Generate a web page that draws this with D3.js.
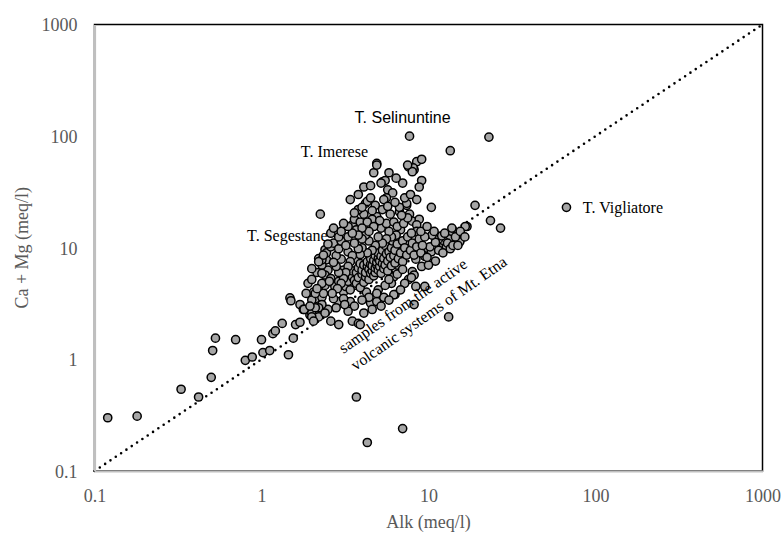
<!DOCTYPE html>
<html><head><meta charset="utf-8">
<script src="https://cdn.jsdelivr.net/npm/d3@7"></script>
<style>body{margin:0;background:#fff}svg{display:block}</style>
</head><body>
<svg id="c" width="784" height="535"></svg>
<script>
// ---- data (meq/l) ----
const alk = [
0.12,0.18,0.33,0.42,0.50,0.51,0.53,0.70,0.80,0.88,1.0,1.02,1.12,1.17,1.21,1.33,1.45,1.48,1.5,1.55,1.6,1.7,1.78,1.7,1.95,2.0,2.2,2.6,2.9,3.5,3.8,3.9,3.4,4.1,4.5,4.9,4.6,6.3,
2.05,2.1,2.3,2.35,2.4,2.45,2.4,3.0,3.3,3.7,2.5,2.4,2.6,2.75,2.9,3.1,2.9,2.7,3.4,3.6,4.0,4.4,4.7,4.25,5.1,5.6,6.5,6.2,6.0,3.1,
1.9,2.0,2.15,2.3,2.2,2.45,2.6,2.7,2.8,2.9,3.0,3.2,3.3,2.9,2.6,3.0,3.4,2.25,3.5,3.7,3.6,3.9,4.1,3.8,4.2,4.3,4.5,4.1,4.5,4.7,4.9,5.3,5.5,5.7,6.1,5.6,5.4,4.8,5.3,4.9,4.6,4.3,5.8,4.9,5.2,6.7,7.4,7.4,6.7,7.7,8.0,8.8,8.5,8.5,7.6,8.2,8.5,9.1,8.1,8.0,9.1,8.8,7.5,7.7,23,13.5,10.4,19,17,23.5,27,67,
11.5,12.5,14,15,13.7,15.4,13.5,12.3,12.8,16.6,10,10.4,11,9.5,8.4,8.0,8.2,7.6,8.4,9.5,6.2,8.2,13.2,14.4,15.4,13.2,12.3,10.2,11.5,14.5,13.0,
3.7,4.3,7.0,
3.2,3.3,3.4,3.5,3.5,3.6,3.7,3.7,3.8,3.8,3.9,3.9,4.0,4.0,4.1,4.1,4.2,4.2,4.3,4.3,4.4,4.4,4.5,4.5,4.5,4.6,4.6,4.7,4.7,4.8,4.8,4.8,4.9,4.9,5.0,5.0,5.0,5.1,5.1,5.2,5.2,5.3,5.3,5.4,5.4,5.5,5.5,5.6,5.7,5.7,5.8,5.9,6.0,6.0,6.1,6.2,6.3,6.3,6.5,6.6,6.8,7.0,7.0,7.2,7.4,7.5,7.8,8.0,8.2,8.5,8.8,9.0,9.2,7.9,6.8,6.4,6.0,5.8,5.6,5.3,5.0,4.8,4.6,4.4,4.3,4.2,4.0,4.0,3.9,3.8,3.6,3.5,3.4,3.3,3.2,3.1,3.0,2.9,2.8,2.7,
5.2,5.6,6.2,6.5,7.1,7.5,6.9,5.9,5.1,4.7,4.4,4.0,3.8,3.5,3.3,3.1,2.7,3.6,4.6,5.7,6.3,7.2,7.8,8.5,7.0,6.4,3.8,4.0,
5.0,5.5,5.8,6.5,7.0,7.2,6.8,5.4,4.9,4.4,4.0,3.6,3.3,3.1,2.8,2.5,2.3,2.2,5.2,5.8,7.9,9.1,10,9.8,11.5,12.2,13.5,14,12.0,11.0,10.5,9.5,9.0,9.8,10.8,12.5,13.8,15.5,16.5,15.0,
1.85,1.8,2.0,2.0,2.1,2.1,2.3,2.3,2.3,
2.0,2.2,2.35,2.5,2.15,2.55,2.85,3.15,2.65,1.95,2.05,2.4
];
const caMg = [
0.30,0.31,0.54,0.46,0.69,1.2,1.55,1.5,0.98,1.05,1.5,1.15,1.2,1.7,1.8,2.1,1.1,3.55,3.35,1.55,2.05,3.1,2.8,2.15,2.5,2.6,2.4,2.2,2.05,2.2,2.1,2.05,3.3,2.6,3.2,3.3,2.8,3.8,
4.0,3.5,3.6,3.9,4.6,7.8,9.6,7.9,9.2,7.9,6.3,5.7,5.3,4.5,5.0,4.0,3.3,3.5,5.7,4.6,5.3,5.7,6.6,4.0,7.3,7.9,7.0,5.5,4.8,6.3,
4.8,5.2,6.0,7.0,8.0,9.0,10.2,11,8.5,9.8,11.5,10.5,12.5,12.5,13.5,14,27,20,16,14.5,18,17,20,22,25,26,28,35,36,47,57,39,40,33,31,28,27,24,22,19,18,17,47,55,38,21,24,25,23,20,17.3,18,16,14,53,50,59,62,52,48,40,35,55,100,98,74,23,24,15.5,17.5,15,23,
12.6,11.6,14.3,13.4,10.9,11.6,13,10.4,10.3,15.5,9.6,9.2,7.6,8.4,7.9,6.1,5.7,5.2,4.5,4.5,3.8,3.1,2.4,11.6,11.3,12,11.6,10.2,12.0,12.5,11.0,
0.46,0.18,0.24,
4.5,5.0,4.2,5.5,6.2,5.1,4.8,6.0,5.4,6.6,4.4,7.2,5.8,6.3,4.9,7.0,5.5,6.0,6.8,7.5,5.2,6.4,5.9,7.1,8.0,6.2,6.9,5.6,7.7,6.0,6.6,8.5,7.0,7.4,6.3,8.0,9.0,6.8,7.6,8.4,5.9,7.2,9.5,6.5,8.0,7.0,10.5,8.8,6.2,7.6,9.2,8.2,6.9,10.0,11.5,8.5,7.3,9.5,10.8,8.0,9.0,7.5,11.5,10.0,8.6,12.5,9.5,11.0,8.6,10.2,12.0,9.0,10.5,13.5,14.5,13.0,12.5,14.0,12.0,11.0,12.5,10.5,9.5,11.5,9.0,13.0,10.0,12.0,8.7,9.8,11.0,8.5,7.5,6.8,6.0,5.3,4.8,6.0,6.8,7.4,
15,16.5,17,15.5,16.5,18.5,19.5,20,17.5,15.5,14,15,13,13.5,15.5,16.5,15,20.5,21.5,23.5,25.5,28,30,27,38,42,30,23,
4.2,4.6,5.2,5.8,6.4,4.8,4.2,3.6,3.9,3.6,3.4,3.0,2.7,3.5,2.9,2.8,3.1,2.9,3.0,3.4,5.4,6.8,7.0,8.2,9.5,9.0,9.8,10.5,12.8,11.2,13.0,12.5,14.0,15.5,14.0,13.5,15.0,14.0,12.5,10.5,
3.9,2.8,2.4,3.4,3.9,2.9,4.8,5.9,7.8,
6.5,7.5,8.6,10.8,4.3,5.0,4.3,3.1,3.9,3.0,2.2,2.6
];
const ticks = [0.1, 1, 10, 100, 1000];
const tickLabels = ["0.1", "1", "10", "100", "1000"];
const notes = [
  {text: "T. Selinuntine", x: 7.0, y: 131, sans: true},
  {text: "T. Imerese", x: 1.72, y: 65},
  {text: "T. Segestane", x: 0.82, y: 11.5},
  {text: "T. Vigliatore", x: 84, y: 20.5}
];
const etnaLines = ["samples from the active", "volcanic systems of Mt. Etna"];

// ---- layout ----
const svg = d3.select("#c");
const L = 94.5, R = 762.5, T = 24.5, B = 471;
const x = d3.scaleLog().domain([0.1, 1000]).range([L, R]);
const y = d3.scaleLog().domain([0.1, 1000]).range([B, T]);
const serif = "'Liberation Serif','Times New Roman',serif";
const sans = "'Liberation Sans',Arial,sans-serif";
const gray = "#595959";

// plot border (top/right black)
svg.append("rect").attr("x", L).attr("y", T).attr("width", R - L).attr("height", B - T)
  .attr("fill", "none").attr("stroke", "#000").attr("stroke-width", 1.5);

// 1:1 line
svg.append("line").attr("x1", x(0.1)).attr("y1", y(0.1)).attr("x2", x(1000)).attr("y2", y(1000))
  .attr("stroke", "#000").attr("stroke-width", 2.6).attr("stroke-linecap", "round")
  .attr("stroke-dasharray", "0 6.4");

// axes
const xAxis = d3.axisBottom(x).tickValues(ticks).tickFormat((d, i) => tickLabels[i]).tickSize(0).tickPadding(18);
const yAxis = d3.axisLeft(y).tickValues(ticks).tickFormat((d, i) => tickLabels[i]).tickSize(0).tickPadding(17);
const gx = svg.append("g").attr("transform", `translate(0,${B})`).call(xAxis);
const gy = svg.append("g").attr("transform", `translate(${L},0)`).call(yAxis);
[gx, gy].forEach(g => {
  g.select(".domain").attr("stroke", "#bfbfbf").attr("stroke-width", 2.2);
  g.selectAll("text").attr("font-family", serif).attr("font-size", 18).attr("fill", gray);
});
gy.selectAll("text").attr("dy", "0.36em");

// points
const pts = alk.map((a, i) => [a, caMg[i]]);
svg.append("g").selectAll("circle").data(pts).join("circle")
  .attr("cx", d => x(d[0])).attr("cy", d => y(d[1])).attr("r", 4.1)
  .attr("fill", "#a6a6a6").attr("stroke", "#000").attr("stroke-width", 1.5);

// annotations
notes.forEach(n => {
  svg.append("text").attr("x", x(n.x)).attr("y", y(n.y))
    .attr("text-anchor", n.sans ? "middle" : "start")
    .attr("font-family", n.sans ? sans : serif).attr("font-size", 16).attr("fill", "#000")
    .text(n.text);
});
const et = svg.append("text").attr("font-family", serif).attr("font-size", 16).attr("fill", "#000")
  .attr("transform", `translate(${x(3.1)},${y(1.12)}) rotate(-35)`);
etnaLines.forEach((s, i) => et.append("tspan").attr("x", 0).attr("dy", i ? 21 : 0).text(s));

// axis titles
svg.append("text").attr("x", (L + R) / 2).attr("y", 528).attr("text-anchor", "middle")
  .attr("font-family", serif).attr("font-size", 18).attr("fill", gray).text("Alk (meq/l)");
svg.append("text").attr("transform", `translate(28,${(T + B) / 2}) rotate(-90)`).attr("text-anchor", "middle")
  .attr("font-family", serif).attr("font-size", 18).attr("fill", gray).text("Ca + Mg (meq/l)");
</script>
</body></html>
